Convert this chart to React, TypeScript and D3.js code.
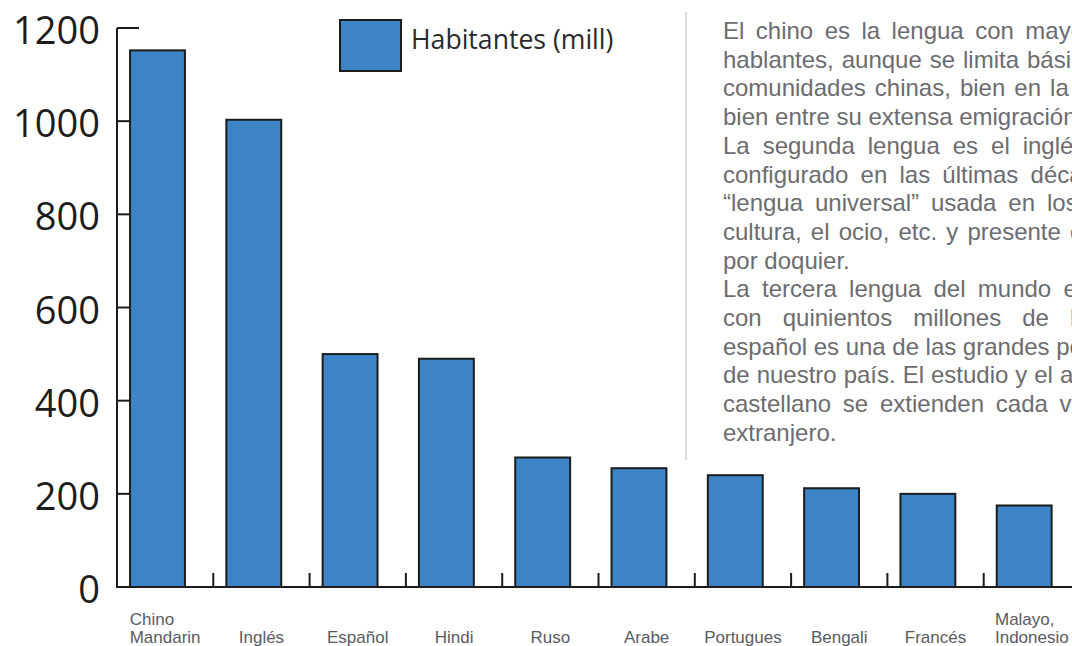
import React, { useEffect, useRef } from 'react';
import * as d3 from 'd3';

// idiomas (etiquetas del eje x, "\n" separa lineas)
const categories = [
    'Chino\nMandarin',
    'Inglés',
    'Español',
    'Hindi',
    'Ruso',
    'Arabe',
    'Portugues',
    'Bengali',
    'Francés',
    'Malayo,\nIndonesio',
];

// habitantes en millones
const values = [1152, 1003, 500, 490, 278, 255, 240, 212, 200, 175];

const yTicks = [0, 200, 400, 600, 800, 1000, 1200];

const legendLabel = 'Habitantes (mill)';

// texto de la columna derecha, una entrada por linea; la ultima de cada parrafo va sin justificar
const paragraphs = [
    [
        'El chino es la lengua con mayor número de',
        'hablantes, aunque se limita básicamente a las',
        'comunidades chinas, bien en la propia China,',
        'bien entre su extensa emigración.',
    ],
    [
        'La segunda lengua es el inglés, que se ha',
        'configurado en las últimas décadas como la',
        '“lengua universal” usada en los negocios, la',
        'cultura, el ocio, etc. y presente en los medios',
        'por doquier.',
    ],
    [
        'La tercera lengua del mundo es el español,',
        'con quinientos millones de hablantes. El',
        'español es una de las grandes potencialidades',
        'de nuestro país. El estudio y el aprendizaje del',
        'castellano se extienden cada vez más en el',
        'extranjero.',
    ],
];

const App = () => {
    const ref = useRef(null);

    useEffect(() => {
        const width = 1072;
        const height = 646;
        const svg = d3.select(ref.current)
            .attr('width', width)
            .attr('height', height)
            .style('position', 'absolute')
            .style('top', 0)
            .style('left', 0)
            .style('background', '#fff');

        svg.selectAll('*').remove();

        const x0 = 117;
        const x = d3.scaleBand()
            .domain(categories)
            .range([x0, 1080])
            .paddingInner(0.43)
            .paddingOuter(0.215)
            .align(0.315);

        const y = d3.scaleLinear()
            .domain([0, 1200])
            .range([587, 28]);

        const ink = '#1c1c1c';
        const barColor = '#3c84c6';

        // marcas del eje y (por debajo de las barras)
        svg.append('g')
            .selectAll('line')
            .data(yTicks.filter(t => t > 0))
            .join('line')
            .attr('x1', x0)
            .attr('x2', x0 + 22)
            .attr('y1', d => y(d))
            .attr('y2', d => y(d))
            .attr('stroke', ink)
            .attr('stroke-width', 2);

        svg.append('g')
            .selectAll('text')
            .data(yTicks)
            .join('text')
            .attr('x', 100)
            .attr('y', d => y(d) + 16)
            .attr('text-anchor', 'end')
            .attr('font-family', '"Open Sans", sans-serif')
            .attr('font-size', 38)
            .attr('fill', ink)
            .text(d => d);

        // barras
        svg.append('g')
            .selectAll('rect')
            .data(values)
            .join('rect')
            .attr('x', (d, i) => x(categories[i]))
            .attr('y', d => y(d))
            .attr('width', x.bandwidth())
            .attr('height', d => y(0) - y(d))
            .attr('fill', barColor)
            .attr('stroke', ink)
            .attr('stroke-width', 2);

        // ejes
        svg.append('line')
            .attr('x1', x0).attr('x2', x0)
            .attr('y1', y(1200)).attr('y2', y(0) + 1)
            .attr('stroke', ink).attr('stroke-width', 2);

        svg.append('line')
            .attr('x1', x0 - 1).attr('x2', width)
            .attr('y1', y(0)).attr('y2', y(0))
            .attr('stroke', ink).attr('stroke-width', 2);

        const boundaries = d3.range(1, categories.length + 1).map(i => x0 + i * x.step());
        svg.append('g')
            .selectAll('line')
            .data(boundaries)
            .join('line')
            .attr('x1', d => d).attr('x2', d => d)
            .attr('y1', y(0)).attr('y2', y(0) - 14)
            .attr('stroke', ink)
            .attr('stroke-width', 2);

        // etiquetas del eje x
        const labels = svg.append('g')
            .attr('font-family', '"Liberation Sans", Arial, sans-serif')
            .attr('font-size', 17)
            .attr('fill', '#5a5a62');

        categories.forEach((cat, i) => {
            const lines = cat.split('\n');
            const center = x0 + (i + 0.5) * x.step();
            const t = labels.append('text');
            const spans = t.selectAll('tspan')
                .data(lines)
                .join('tspan')
                .attr('y', (d, j) => 643 - (lines.length - 1 - j) * 18.5)
                .text(d => d);
            const maxW = d3.max(spans.nodes(), n => n.getComputedTextLength());
            spans.attr('x', center - maxW / 2);
        });

        // leyenda
        svg.append('rect')
            .attr('x', 340).attr('y', 20)
            .attr('width', 61).attr('height', 51)
            .attr('fill', barColor)
            .attr('stroke', ink)
            .attr('stroke-width', 2);

        svg.append('text')
            .attr('x', 411).attr('y', 49)
            .attr('font-family', '"Open Sans", sans-serif')
            .attr('font-size', 26.6)
            .attr('fill', '#2a2a2a')
            .text(legendLabel);

        // separador
        svg.append('line')
            .attr('x1', 686).attr('x2', 686)
            .attr('y1', 12).attr('y2', 460)
            .attr('stroke', '#cfcfcf')
            .attr('stroke-width', 1.5);

        // texto justificado
        const textX = 723;
        const lineW = 500;
        const lineH = 28.7;
        const body = svg.append('g')
            .attr('font-family', '"Liberation Sans", Arial, sans-serif')
            .attr('font-size', 24)
            .attr('fill', '#6c6c70');

        let row = 0;
        paragraphs.forEach(par => {
            par.forEach((line, j) => {
                const t = body.append('text')
                    .attr('x', textX)
                    .attr('y', 39 + row * lineH)
                    .text(line);
                if (j < par.length - 1) {
                    const natural = t.node().getComputedTextLength();
                    const gaps = line.split(' ').length - 1;
                    if (gaps > 0) t.attr('word-spacing', (lineW - natural) / gaps);
                }
                row++;
            });
        });
    }, []);

    return <svg ref={ref} />;
};

export default App;
